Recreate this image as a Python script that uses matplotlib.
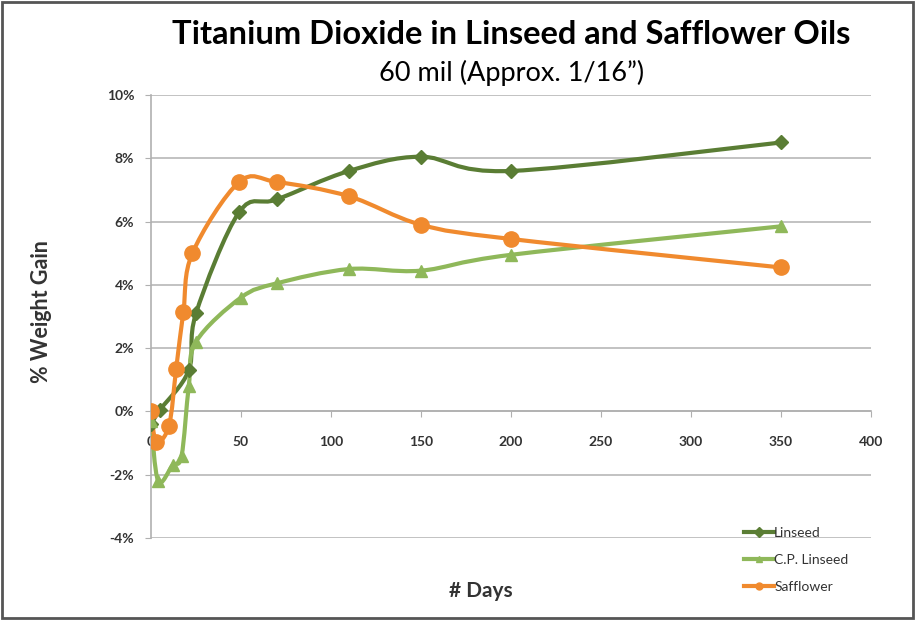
import matplotlib
matplotlib.use("Agg")
import matplotlib.pyplot as plt
from matplotlib.path import Path
from matplotlib.patches import PathPatch, Rectangle
from matplotlib.lines import Line2D
from matplotlib.ticker import FuncFormatter, MultipleLocator

plt.rcParams['font.family'] = ['Lato', 'DejaVu Sans']

# data (days, % weight gain)
LIN_DAYS = [0, 5, 21, 25, 49, 70, 110, 150, 200, 350]
LIN_GAIN = [-0.4, 0.05, 1.3, 3.1, 6.3, 6.7, 7.6, 8.05, 7.6, 8.5]

CP_DAYS = [0, 4, 12, 17, 21, 25, 50, 70, 110, 150, 200, 350]
CP_GAIN = [-0.3, -2.2, -1.7, -1.4, 0.8, 2.2, 3.6, 4.05, 4.5, 4.45, 4.95, 5.85]

SAF_DAYS = [0, 3, 10, 14, 18, 23, 49, 70, 110, 150, 200, 350]
SAF_GAIN = [0.0, -0.95, -0.45, 1.35, 3.15, 5.0, 7.25, 7.25, 6.8, 5.9, 5.45, 4.55]

LIN_COLOR = '#5a7d34'
CP_COLOR = '#8fb85a'
SAF_COLOR = '#f08a2e'


def smooth_path(xs, ys):
    # Excel-like smoothed line: cubic bezier through the points
    verts = [(xs[0], ys[0])]
    codes = [Path.MOVETO]
    n = len(xs)
    for i in range(n - 1):
        x0, y0 = (xs[i - 1], ys[i - 1]) if i > 0 else (xs[i], ys[i])
        x1, y1 = xs[i], ys[i]
        x2, y2 = xs[i + 1], ys[i + 1]
        x3, y3 = (xs[i + 2], ys[i + 2]) if i + 2 < n else (x2, y2)
        c1 = (x1 + (x2 - x0) / 6.0, y1 + (y2 - y0) / 6.0)
        c2 = (x2 - (x3 - x1) / 6.0, y2 - (y3 - y1) / 6.0)
        verts += [c1, c2, (x2, y2)]
        codes += [Path.CURVE4] * 3
    return Path(verts, codes)


fig = plt.figure(figsize=(9.15, 6.23), dpi=100)
ax = fig.add_axes([0.165, 0.1364, 0.787, 0.7111])

series = [
    (LIN_DAYS, LIN_GAIN, LIN_COLOR, 'D', 7, 'Linseed'),
    (CP_DAYS, CP_GAIN, CP_COLOR, '^', 9, 'C.P. Linseed'),
    (SAF_DAYS, SAF_GAIN, SAF_COLOR, 'o', 11, 'Safflower'),
]
handles = []
for days, gain, col, mk, ms, name in series:
    ax.add_patch(PathPatch(smooth_path(days, gain), facecolor='none',
                           edgecolor=col, lw=3, zorder=3))
    ax.plot(days, gain, linestyle='none', marker=mk, markersize=ms,
            color=col, zorder=4)
    handles.append(Line2D([], [], color=col, lw=3, marker=mk, markersize=5,
                          label=name))

ax.set_xlim(0, 400)
ax.set_ylim(-4, 10)
ax.xaxis.set_major_locator(MultipleLocator(50))
ax.yaxis.set_major_locator(MultipleLocator(2))
ax.yaxis.set_major_formatter(FuncFormatter(lambda v, p: '%d%%' % v))
ax.grid(axis='y', color='#b8b8b8', lw=1.2)
ax.set_axisbelow(True)

for s in ['top', 'right']:
    ax.spines[s].set_visible(False)
ax.spines['bottom'].set_position(('data', 0))
ax.spines['bottom'].set_color('#b0b0b0')
ax.spines['bottom'].set_linewidth(1.2)
ax.spines['left'].set_color('#b0b0b0')
ax.spines['left'].set_linewidth(1.2)
ax.tick_params(axis='x', direction='out', length=4, color='#b0b0b0', pad=14,
               labelsize=10, labelcolor='#333333')
ax.tick_params(axis='y', direction='out', length=4, color='#b0b0b0', pad=8,
               labelsize=10, labelcolor='#333333')
for lab in ax.get_xticklabels() + ax.get_yticklabels():
    lab.set_fontweight('bold')

fig.text(0.045, 0.50, '% Weight Gain', rotation=90, ha='center', va='center',
         fontsize=15.5, fontweight='bold', color='#333333')
fig.text(0.525, 0.052, '# Days', ha='center', va='center',
         fontsize=15, fontweight='bold', color='#333333')

fig.text(0.559, 0.945, 'Titanium Dioxide in Linseed and Safflower Oils',
         ha='center', va='center', fontsize=23.5, fontweight='bold', color='black')
fig.text(0.559, 0.883, '60 mil (Approx. 1/16\u201d)', ha='center', va='center',
         fontsize=19.5, color='black')

fig.legend(handles=handles, loc='upper left', bbox_to_anchor=(0.805, 0.166),
           frameon=False, fontsize=10, handlelength=2.2, handletextpad=0.0,
           labelspacing=1.1, borderpad=0, labelcolor='#333333')

# picture frame
fig.patches.append(Rectangle((0.002, 0.008), 0.996, 0.988, transform=fig.transFigure,
                             fill=False, edgecolor='#555555', lw=2))

fig.savefig('out.png', dpi=100)
